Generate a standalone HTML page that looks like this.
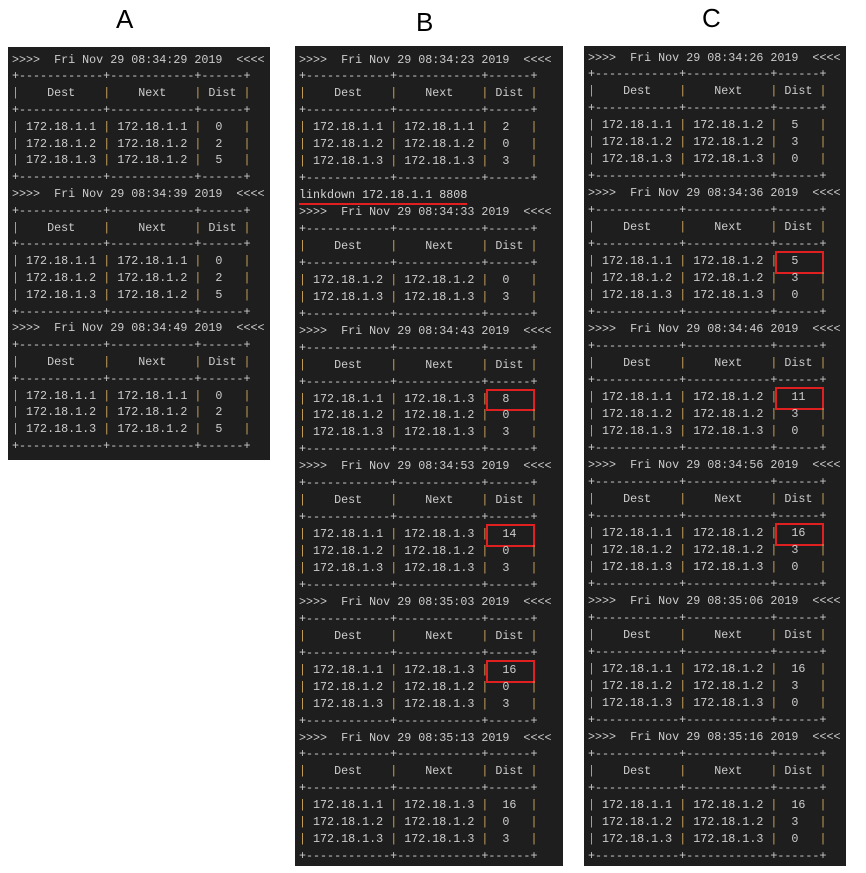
<!DOCTYPE html>
<html><head><meta charset="utf-8">
<style>
body{margin:0;width:866px;height:873px;background:#fff;position:relative;overflow:hidden;font-family:"Liberation Mono",monospace;}
.lab{position:absolute;font-family:"Liberation Sans",sans-serif;font-size:26px;color:#000;}
.panel{position:absolute;background:#1e1e1e;}
.ln{position:absolute;left:4px;white-space:pre;font-size:11.7px;color:#cccccc;}
.p{color:#c9a25a;}
.box{position:absolute;border:2px solid #e02020;box-sizing:border-box;}
</style></head><body>
<div class="lab" style="left:116px;top:4px">A</div>
<div class="lab" style="left:416px;top:7px">B</div>
<div class="lab" style="left:702px;top:3px">C</div>
<div class="panel" id="pa" style="left:8px;top:47px;width:262px;height:413px"></div>
<div class="panel" id="pb" style="left:295px;top:46px;width:268px;height:820px"></div>
<div class="panel" id="pc" style="left:584px;top:46px;width:262px;height:820px"></div>
<script>
const dests=["172.18.1.1","172.18.1.2","172.18.1.3"];
const panelA=[
 {t:"08:34:29",rows:[[0,"172.18.1.1",0],[1,"172.18.1.2",2],[2,"172.18.1.2",5]]},
 {t:"08:34:39",rows:[[0,"172.18.1.1",0],[1,"172.18.1.2",2],[2,"172.18.1.2",5]]},
 {t:"08:34:49",rows:[[0,"172.18.1.1",0],[1,"172.18.1.2",2],[2,"172.18.1.2",5]]}];
const panelB=[
 {t:"08:34:23",rows:[[0,"172.18.1.1",2],[1,"172.18.1.2",0],[2,"172.18.1.3",3]]},
 {pre:"linkdown 172.18.1.1 8808",t:"08:34:33",rows:[[1,"172.18.1.2",0],[2,"172.18.1.3",3]]},
 {t:"08:34:43",rows:[[0,"172.18.1.3",8],[1,"172.18.1.2",0],[2,"172.18.1.3",3]]},
 {t:"08:34:53",rows:[[0,"172.18.1.3",14],[1,"172.18.1.2",0],[2,"172.18.1.3",3]]},
 {t:"08:35:03",rows:[[0,"172.18.1.3",16],[1,"172.18.1.2",0],[2,"172.18.1.3",3]]},
 {t:"08:35:13",rows:[[0,"172.18.1.3",16],[1,"172.18.1.2",0],[2,"172.18.1.3",3]]}];
const panelC=[
 {t:"08:34:26",rows:[[0,"172.18.1.2",5],[1,"172.18.1.2",3],[2,"172.18.1.3",0]]},
 {t:"08:34:36",rows:[[0,"172.18.1.2",5],[1,"172.18.1.2",3],[2,"172.18.1.3",0]]},
 {t:"08:34:46",rows:[[0,"172.18.1.2",11],[1,"172.18.1.2",3],[2,"172.18.1.3",0]]},
 {t:"08:34:56",rows:[[0,"172.18.1.2",16],[1,"172.18.1.2",3],[2,"172.18.1.3",0]]},
 {t:"08:35:06",rows:[[0,"172.18.1.2",16],[1,"172.18.1.2",3],[2,"172.18.1.3",0]]},
 {t:"08:35:16",rows:[[0,"172.18.1.2",16],[1,"172.18.1.2",3],[2,"172.18.1.3",0]]}];
const highlightB=[2,3,4], highlightC=[1,2,3];
const BORDER="+------------+------------+------+";
function P(){return '<span class="p">|</span>';}
function esc(s){return s.replace(/&/g,'&amp;').replace(/</g,'&lt;').replace(/>/g,'&gt;');}
function render(id,blocks,firstCenter,h,hl,prefix){
  const el=document.getElementById(id);
  let i=0;
  function add(html,name){
    const d=document.createElement('div');d.className='ln';
    d.style.top=(firstCenter-h/2+i*h)+'px';d.style.lineHeight=h+'px';
    d.innerHTML=html;
    
    
    el.appendChild(d);i++;return d;
  }
  blocks.forEach((b,bi)=>{
    if(b.pre){
      const d=add(esc(b.pre),'linkdown-message');
      d.style.color='#d4d4d4';
      const u=document.createElement('div');
      u.style.cssText='position:absolute;left:4px;height:2px;background:#e02020;width:'+(b.pre.length*7)+'px;top:'+(firstCenter-h/2+(i-1)*h+h-1)+'px';
      
      
      el.appendChild(u);
    }
    add(esc('>>>>  Fri Nov 29 '+b.t+' 2019  <<<<'),prefix+'-timestamp-'+bi);
    add(BORDER,'table-border');
    add(P()+'    Dest    '+P()+'    Next    '+P()+' Dist '+P(),'table-header');
    add(BORDER,'table-border');
    b.rows.forEach(r=>{
      const dist=String(r[2]);
      const dc=('  '+dist+'    ').slice(0,6);
      add(P()+' '+dests[r[0]]+' '+P()+' '+r[1]+' '+P()+dc+P(),'route-row');
      if(r[0]===0 && hl.indexOf(bi)>=0){
        const bx=document.createElement('div');bx.className='box';
        const top=firstCenter-h/2+(i-1)*h;
        bx.style.cssText='left:'+(4+27*7-2)+'px;top:'+(top-2)+'px;width:49px;height:'+(h+6)+'px;';
        
        
        el.appendChild(bx);
      }
    });
    add(BORDER,'table-border');
  });
}
render('pa',panelA,13,16.8,[],'a');
render('pb',panelB,14,16.95,highlightB,'b');
render('pc',panelC,12,16.98,highlightC,'c');
</script>
</body></html>
